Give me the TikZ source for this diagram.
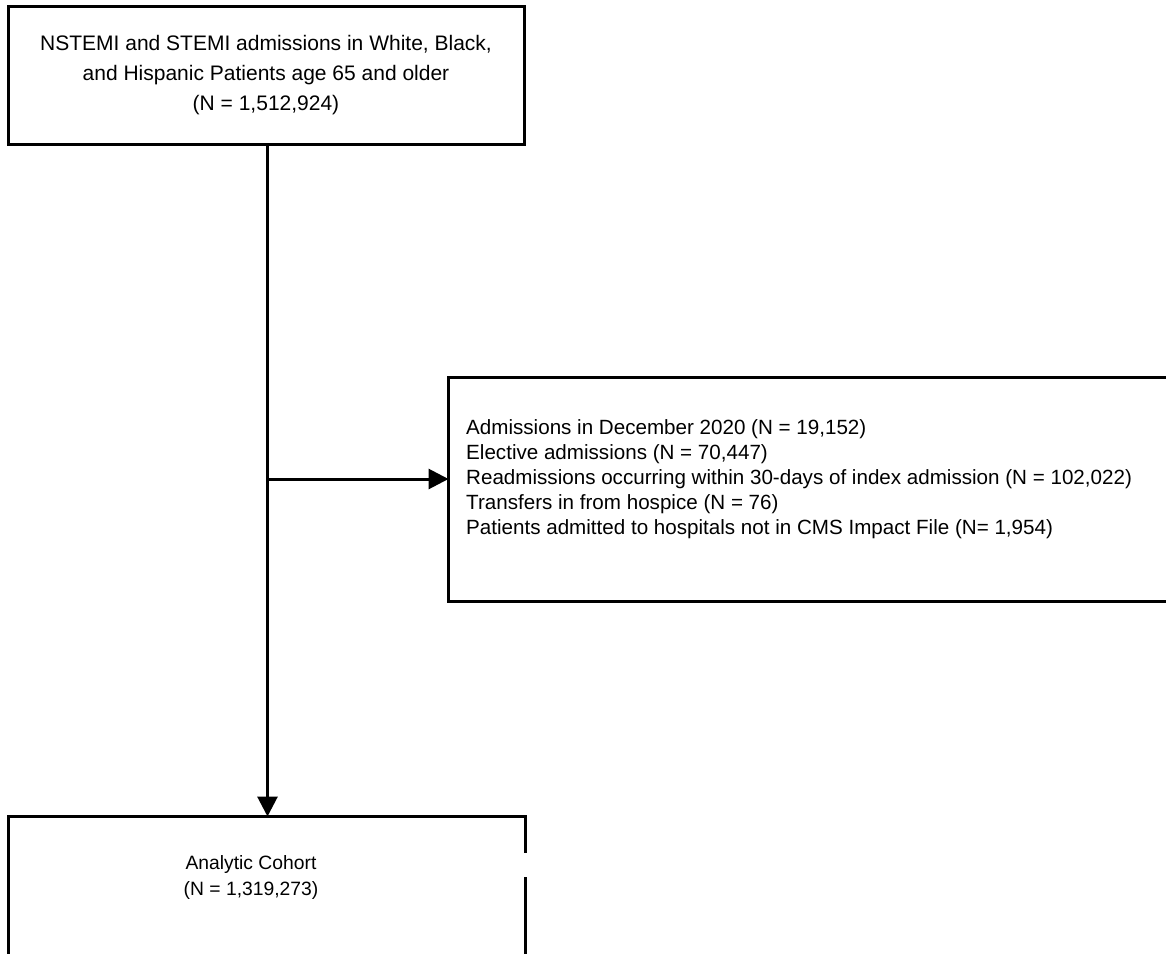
\documentclass[tikz,border=0pt]{standalone}
\usepackage{fontspec}
\setmainfont{Liberation Sans}
\usetikzlibrary{arrows.meta}
\begin{document}
\begin{tikzpicture}[x=1pt,y=-1pt,
  box/.style={draw,line width=3pt,rectangle,inner sep=0pt,outer sep=0pt},
  link/.style={line width=3pt,-{Triangle[length=20pt,width=20pt]}}]
\clip (0,0) rectangle (1166,953);
\node[box,minimum width=516pt,minimum height=138pt,align=center,
      font=\fontsize{21}{30}\selectfont] (src) at (266,75)
  {NSTEMI and STEMI admissions in White, Black,\\and Hispanic Patients age 65 and older\\(N = 1,512,924)};
\node[box,minimum width=740pt,minimum height=223.5pt,anchor=north west] (excl) at (448.5,377.5) {};
\node[anchor=west,align=left,inner sep=0pt,font=\fontsize{20.6}{25}\selectfont] (excltext) at (466,479)
  {Admissions in December 2020 (N = 19,152)\\
   Elective admissions (N = 70,447)\\
   Readmissions occurring within 30-days of index admission (N = 102,022)\\
   Transfers in from hospice (N = 76)\\
   Patients admitted to hospitals not in CMS Impact File (N= 1,954)};
\node[box,minimum width=517.5pt,minimum height=200pt,anchor=north west] (cohort) at (8,816.5) {};
\fill[white] (cohort.north east) ++(-5,36.5) rectangle ++(10,24);
\node[align=center,inner sep=0pt,font=\fontsize{19.3}{26}\selectfont] (cohorttext) at (251,877)
  {Analytic Cohort\\(N = 1,319,273)};
\coordinate (junction) at (267.5,479);
\draw[link] (src.south -| junction) -- (cohort.north -| junction);
\draw[link] (junction) -- (junction -| excl.west);
\end{tikzpicture}
\end{document}
